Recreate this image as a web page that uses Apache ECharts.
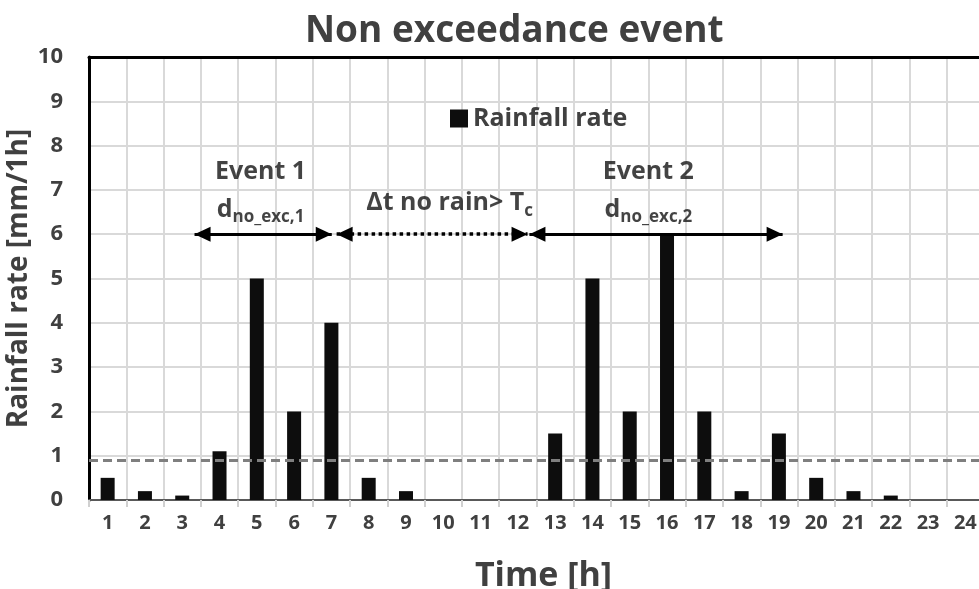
<!DOCTYPE html>
<html>
<head>
<meta charset="utf-8">
<script src="https://cdn.jsdelivr.net/npm/echarts@6/dist/echarts.min.js"></script>
<style>html,body{margin:0;padding:0;background:#fff;}#chart{width:979px;height:589px;}</style>
</head>
<body>
<div id="chart"></div>
<script>
// ---- data ----
const categories = ['1','2','3','4','5','6','7','8','9','10','11','12','13','14','15','16','17','18','19','20','21','22','23','24'];
const rainfall = [0.5,0.2,0.1,1.1,5,2,4,0.5,0.2,0,0,0,1.5,5,2,6,2,0.2,1.5,0.5,0.2,0.1,0,0];
const threshold = 0.9;
const yMin = 0, yMax = 10, yStep = 1;
// annotation arrows (time axis in hours, continuous 0..24) at rainfall level arrowLevel
const arrowLevel = 6;
const event1Span = [2.83, 6.51];
const dryGapSpan = [6.64, 11.76];
const event2Span = [11.81, 18.6];
// annotation texts: [x (h), y (mm/1h), text]
const annotations = [
  [4.6, 7.4, 'Event 1'],
  [4.6, 6.55, '{m|d}{s|no_exc,1}'],
  [9.67, 6.7, '{m|Δt no rain> T}{s|c}'],
  [15.0, 7.4, 'Event 2'],
  [15.0, 6.55, '{m|d}{s|no_exc,2}']
];

const FONT = 'Open Sans';
const chart = echarts.init(document.getElementById('chart'), null, {renderer: 'canvas'});

function arrowLine(span, type) {
  return [
    {coord: [span[0], arrowLevel], lineStyle: {type: type, width: type === 'solid' ? 3 : 3.5, color: '#000'}},
    {coord: [span[1], arrowLevel]}
  ];
}

const option = {
  animation: false,
  backgroundColor: '#ffffff',
  title: {
    text: 'Non exceedance event',
    left: 300, top: 8,
    textStyle: {fontFamily: FONT, fontWeight: 'bold', fontSize: 37, color: '#404040'}
  },
  legend: {
    show: true,
    left: 445, top: 101,
    icon: 'rect', itemWidth: 18, itemHeight: 18, itemGap: 8,
    data: ['Rainfall rate'],
    textStyle: {fontFamily: FONT, fontWeight: 'bold', fontSize: 25, color: '#404040'}
  },
  grid: {left: 89, top: 57, right: -5, bottom: 89, containLabel: false, outerBoundsMode: 'none'},
  xAxis: [
    {
      type: 'category', data: categories, position: 'bottom', boundaryGap: true,
      name: 'Time [h]', nameLocation: 'middle', nameGap: 59,
      nameTextStyle: {fontFamily: FONT, fontWeight: 'bold', fontSize: 34, color: '#404040', padding: [0, 0, 0, 14]},
      axisLine: {show: true, lineStyle: {color: '#595959', width: 2}},
      axisTick: {show: true, alignWithLabel: false, length: 7, lineStyle: {color: '#d0d0d0', width: 2}},
      axisLabel: {interval: 0, margin: 13, fontFamily: FONT, fontWeight: 'bold', fontSize: 20, color: '#404040'},
      splitLine: {show: true, interval: 0, lineStyle: {color: '#d9d9d9', width: 2}}
    },
    {
      type: 'value', position: 'top', min: 0, max: 24,
      axisLine: {show: true, onZero: false, lineStyle: {color: '#000', width: 3}},
      axisTick: {show: false}, axisLabel: {show: false}, splitLine: {show: false}
    }
  ],
  yAxis: {
    type: 'value', min: yMin, max: yMax, interval: yStep,
    name: 'Rainfall rate [mm/1h]', nameLocation: 'middle', nameGap: 56, nameMoveOverlap: false,
    nameTextStyle: {fontFamily: FONT, fontWeight: 'bold', fontSize: 28, color: '#404040'},
    axisLine: {show: true, lineStyle: {color: '#000', width: 3}},
    axisTick: {show: false},
    axisLabel: {margin: 26, fontFamily: FONT, fontWeight: 'bold', fontSize: 22, color: '#404040'},
    splitLine: {show: true, lineStyle: {color: '#d9d9d9', width: 2}}
  },
  series: [
    {
      name: 'Rainfall rate', type: 'bar', data: rainfall,
      xAxisIndex: 0, yAxisIndex: 0,
      barWidth: 14,
      itemStyle: {color: '#0d0d0d'},
      markLine: {
        silent: true, symbol: ['none', 'none'], label: {show: false},
        lineStyle: {type: [9, 5], color: '#7f7f7f', width: 3},
        data: [{yAxis: threshold}]
      },
      z: 3
    },
    {
      name: 'arrows', type: 'line', data: [], xAxisIndex: 1, yAxisIndex: 0,
      markLine: {
        silent: true, symbol: ['triangle', 'triangle'], symbolSize: [15, 16],
        symbolOffset: [[0, 8], [0, 8]],
        label: {show: false},
        data: [
          arrowLine(event1Span, 'solid'),
          arrowLine(dryGapSpan, 'dotted'),
          arrowLine(event2Span, 'solid')
        ]
      },
      z: 5
    },
    {
      name: 'texts', type: 'scatter', xAxisIndex: 1, yAxisIndex: 0,
      symbolSize: 1, itemStyle: {color: 'rgba(0,0,0,0)'}, silent: true,
      data: annotations.map(a => ({value: [a[0], a[1]], label: {formatter: a[2]}})),
      label: {
        show: true, position: 'inside',
        fontFamily: FONT, fontWeight: 'bold', fontSize: 25, color: '#141414',
        rich: {
          m: {fontFamily: FONT, fontWeight: 'bold', fontSize: 25, color: '#141414', lineHeight: 32, verticalAlign: 'middle'},
          s: {fontFamily: FONT, fontWeight: 'bold', fontSize: 17, color: '#141414', lineHeight: 15, verticalAlign: 'bottom'}
        }
      },
      z: 6
    }
  ]
};
chart.setOption(option);
</script>
</body>
</html>
